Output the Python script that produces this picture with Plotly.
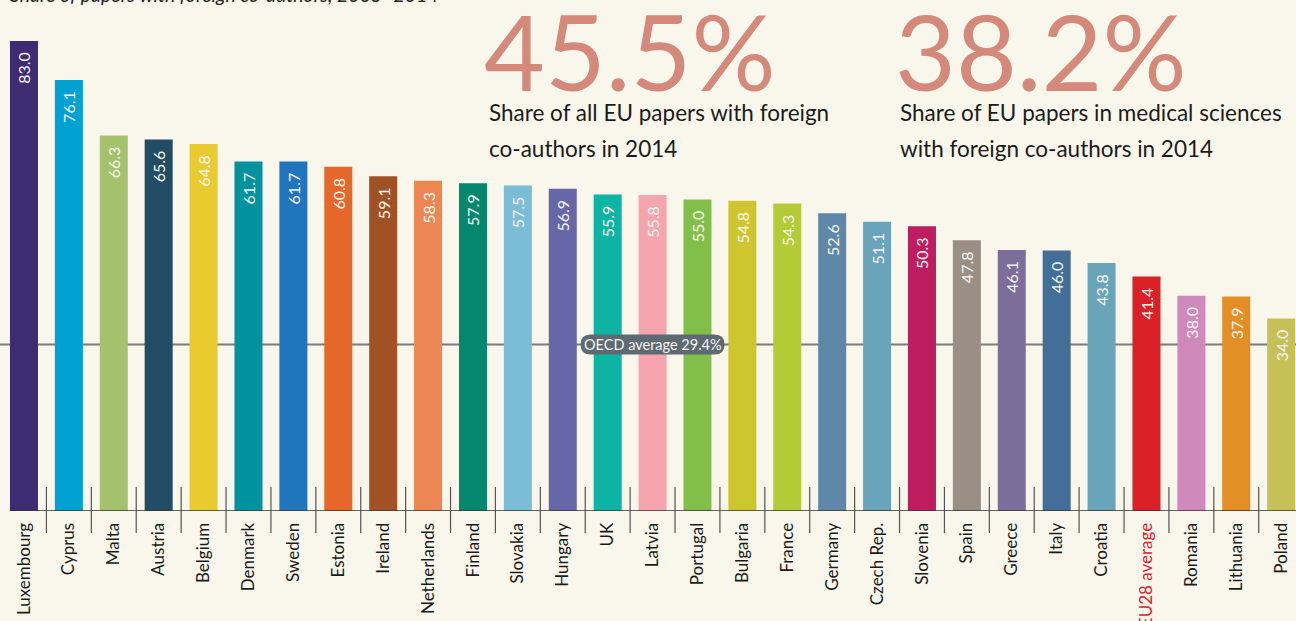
import plotly.graph_objects as go

countries = ["Luxembourg", "Cyprus", "Malta", "Austria", "Belgium", "Denmark", "Sweden",
             "Estonia", "Ireland", "Netherlands", "Finland", "Slovakia", "Hungary", "UK",
             "Latvia", "Portugal", "Bulgaria", "France", "Germany", "Czech Rep.", "Slovenia",
             "Spain", "Greece", "Italy", "Croatia", "EU28 average", "Romania", "Lithuania",
             "Poland"]
values = [83.0, 76.1, 66.3, 65.6, 64.8, 61.7, 61.7, 60.8, 59.1, 58.3, 57.9, 57.5, 56.9, 55.9,
          55.8, 55.0, 54.8, 54.3, 52.6, 51.1, 50.3, 47.8, 46.1, 46.0, 43.8, 41.4, 38.0, 37.9,
          34.0]
colors = ["#3f2a74", "#00a1d3", "#a4c26d", "#224c63", "#eacb2f", "#00929f", "#2175bc",
          "#e5682a", "#a05224", "#ec8652", "#05876e", "#7bbcd7", "#6666a8", "#0db4a3",
          "#f6a4ae", "#82bf4a", "#cec62e", "#b3cb35", "#5f87a7", "#6aa4bb", "#be1e5f",
          "#998f84", "#7d6d99", "#426e98", "#6aa4b9", "#da2128", "#d089bb", "#e38f26",
          "#c6c059"]
highlight = "EU28 average"
oecd_avg = 29.4
oecd_label = "OECD average 29.4%"
oecd_label_pos = 14  # category index the label is centred on
title = "Share of papers with foreign co-authors, 2005–2014"
big1, sub1a, sub1b = "45.5%", "Share of all EU papers with foreign", "co-authors in 2014"
big2, sub2a, sub2b = "38.2%", "Share of EU papers in medical sciences", "with foreign co-authors in 2014"

W, H = 1296, 621
BG = "#f9f7ec"
FONT = "Lato"
bargap = 0.376

idx = list(range(len(countries)))
ticktext = [f"<span style='color:#e0202a'>{c}</span>" if c == highlight else c for c in countries]

fig = go.Figure(go.Bar(
    x=idx, y=values, marker=dict(color=colors, line=dict(width=0)),
    text=[f"{v:.1f}\u00a0\u00a0" for v in values], textposition="inside", insidetextanchor="end",
    textangle=-90, textfont=dict(family=FONT, size=16, color="#f4f4ee"),
    hoverinfo="skip", cliponaxis=False,
))

shapes = []
# OECD average line
shapes.append(dict(type="line", xref="paper", yref="y", x0=0, x1=1, y0=oecd_avg, y1=oecd_avg,
                   line=dict(color="#7b7b78", width=2), layer="below"))
# rounded pill behind the OECD label (pixel-sized, anchored on the line)
hw, hh, r = 72, 10, 10
pill = (f"M {-hw + r},{-hh} L {hw - r},{-hh} Q {hw},{-hh} {hw},0 Q {hw},{hh} {hw - r},{hh} "
        f"L {-hw + r},{hh} Q {-hw},{hh} {-hw},0 Q {-hw},{-hh} {-hw + r},{-hh} Z")
shapes.append(dict(type="path", xref="x", yref="y", xsizemode="pixel", ysizemode="pixel",
                   xanchor=oecd_label_pos, yanchor=oecd_avg, path=pill,
                   fillcolor="#5e6a71", line=dict(width=0), layer="above"))
# dividers between categories
for i in idx[:-1]:
    shapes.append(dict(type="line", xref="x", yref="paper", x0=i + 0.5, x1=i + 0.5,
                       y0=-0.043, y1=0.047, line=dict(color="#555555", width=1.2)))
# baseline
shapes.append(dict(type="line", xref="x", yref="y", x0=-(1 - bargap) / 2, x1=idx[-1] + 1,
                   y0=0, y1=0, line=dict(color="#333333", width=1.6)))

ann = []
ann.append(dict(text=title, xref="paper", yref="paper", x=0.006, y=1, xanchor="left",
                yanchor="bottom", yshift=-8, showarrow=False,
                font=dict(family=FONT, size=19.5, color="#222222", style="italic")))
ann.append(dict(text=oecd_label, xref="x", yref="y", x=oecd_label_pos, y=oecd_avg,
                showarrow=False, font=dict(family=FONT, size=14.5, color="#f4f4f4")))
for xp, big, sa, sb in [(487, big1, sub1a, sub1b), (898, big2, sub2a, sub2b)]:
    ann.append(dict(text=big, xref="paper", yref="paper", x=xp / W - 0.004, y=1 - 50 / 511,
                    xanchor="left", yanchor="middle", showarrow=False,
                    font=dict(family=FONT, size=105, color="#d5897a")))
    ann.append(dict(text=sa, xref="paper", yref="paper", x=xp / W, y=1 - 113 / 511,
                    xanchor="left", yanchor="middle", showarrow=False,
                    font=dict(family=FONT, size=22.5, color="#1b1b1b")))
    ann.append(dict(text=sb, xref="paper", yref="paper", x=xp / W, y=1 - 148 / 511,
                    xanchor="left", yanchor="middle", showarrow=False,
                    font=dict(family=FONT, size=22.5, color="#1b1b1b")))

fig.update_layout(
    width=W, height=H, paper_bgcolor=BG, plot_bgcolor="rgba(0,0,0,0)",
    margin=dict(l=0, r=0, t=0, b=110, autoexpand=False), bargap=bargap, showlegend=False,
    shapes=shapes, annotations=ann,
    xaxis=dict(range=[-0.534, 28.33], tickmode="array", tickvals=idx, ticktext=ticktext,
               tickangle=-90, ticks="outside", ticklen=4, tickcolor="rgba(0,0,0,0)",
               showgrid=False, zeroline=False, showline=False, automargin=False,
               tickfont=dict(family=FONT, size=17, color="#1b1b1b")),
    yaxis=dict(range=[0, 90.24], visible=False, showgrid=False, zeroline=False,
               automargin=False),
)

fig.write_html("out.html", config={"displayModeBar": False})
